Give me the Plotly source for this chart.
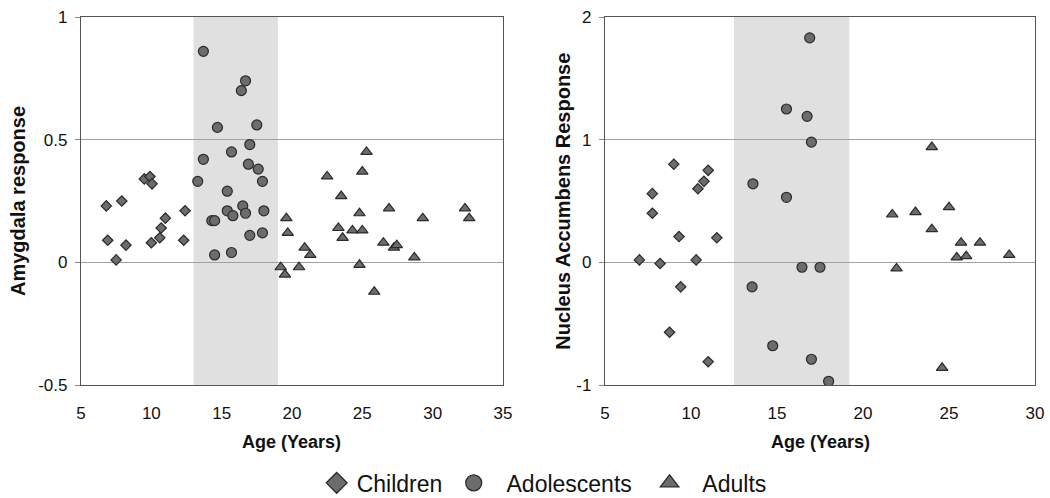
import plotly.graph_objects as go

# ---------------- data ----------------
# Left panel: Amygdala response
amy_child_age = [6.8, 7.9, 6.9, 7.5, 8.2, 9.5, 9.9, 10.05, 10.0, 10.6, 10.7, 11.0, 12.4, 12.3]
amy_child_val = [0.23, 0.25, 0.09, 0.01, 0.07, 0.34, 0.35, 0.32, 0.08, 0.10, 0.14, 0.18, 0.21, 0.09]

amy_adol_age = [13.7, 16.7, 16.4, 14.7, 17.5, 17.0, 13.7, 15.7, 16.9, 17.6, 13.3, 17.9,
                15.4, 16.5, 15.4, 15.8, 16.7, 18.0, 14.3, 14.5, 17.0, 17.9, 14.5, 15.7]
amy_adol_val = [0.86, 0.74, 0.70, 0.55, 0.56, 0.48, 0.42, 0.45, 0.40, 0.38, 0.33, 0.33,
                0.29, 0.23, 0.21, 0.19, 0.20, 0.21, 0.17, 0.17, 0.11, 0.12, 0.03, 0.04]

amy_adult_age = [25.3, 25.0, 22.5, 23.5, 19.6, 19.7, 24.8, 26.9, 29.3, 32.3, 32.6, 23.3, 24.3,
                 25.0, 23.6, 20.9, 21.3, 26.5, 27.25, 27.45, 28.7, 19.2, 19.5, 20.5, 24.8, 25.85]
amy_adult_val = [0.45, 0.37, 0.35, 0.27, 0.18, 0.12, 0.20, 0.22, 0.18, 0.22, 0.18, 0.14, 0.13,
                 0.13, 0.10, 0.06, 0.03, 0.08, 0.06, 0.07, 0.02, -0.02, -0.05, -0.02, -0.01, -0.12]

# Right panel: Nucleus Accumbens response
nac_child_age = [9.0, 11.0, 10.75, 10.4, 7.75, 7.75, 9.3, 11.5, 7.0, 8.2, 10.3, 9.4, 8.75, 11.0]
nac_child_val = [0.80, 0.75, 0.66, 0.60, 0.56, 0.40, 0.21, 0.20, 0.02, -0.01, 0.02, -0.20, -0.57, -0.81]

nac_adol_age = [13.6, 15.55, 15.55, 13.55, 14.75, 16.9, 16.75, 17.0, 16.45, 17.5, 17.0, 18.0]
nac_adol_val = [0.64, 1.25, 0.53, -0.20, -0.68, 1.83, 1.19, 0.98, -0.04, -0.04, -0.79, -0.97]

nac_adult_age = [24.0, 25.0, 21.7, 23.05, 24.0, 25.7, 26.8, 25.45, 26.0, 28.5, 21.95, 24.6]
nac_adult_val = [0.94, 0.45, 0.39, 0.41, 0.27, 0.16, 0.16, 0.04, 0.05, 0.06, -0.05, -0.86]

group_names = ["Children", "Adolescents", "Adults"]
left_ticks = [-0.5, 0, 0.5, 1]
left_ticktext = ["-0.5", "0", "0.5", "1"]
right_ticks = [-1, 0, 1, 2]
right_ticktext = ["-1", "0", "1", "2"]
x_left_ticks = [5, 10, 15, 20, 25, 30, 35]
x_right_ticks = [5, 10, 15, 20, 25, 30]
adolescence_left = [13, 19]
adolescence_right = [12.5, 19.2]

# ---------------- style ----------------
FONT = "Liberation Sans, Arial, Helvetica, sans-serif"
FILL = "#6c6c6c"
EDGE = "#2a2a2a"
NB = "\u00a0"
symbols = {"Children": "diamond", "Adolescents": "circle", "Adults": "triangle-up"}
sizes = {"Children": 8, "Adolescents": 10, "Adults": 10}
legend_labels = {"Children": "Children" + NB,
                 "Adolescents": NB + NB + "Adolescents" + NB + NB,
                 "Adults": NB + NB + "Adults"}

fig = go.Figure()

def add_group(ages, vals, name, xa, ya):
    fig.add_trace(go.Scatter(
        x=ages, y=vals, mode="markers", name=name, showlegend=False,
        xaxis=xa, yaxis=ya,
        marker=dict(symbol=symbols[name], size=sizes[name], color=FILL,
                    line=dict(color=EDGE, width=1.2))))

add_group(amy_child_age, amy_child_val, "Children", "x", "y")
add_group(amy_adol_age, amy_adol_val, "Adolescents", "x", "y")
add_group(amy_adult_age, amy_adult_val, "Adults", "x", "y")
add_group(nac_child_age, nac_child_val, "Children", "x2", "y2")
add_group(nac_adol_age, nac_adol_val, "Adolescents", "x2", "y2")
add_group(nac_adult_age, nac_adult_val, "Adults", "x2", "y2")

# legend-only entries (larger symbols)
for name in group_names:
    fig.add_trace(go.Scatter(
        x=[None], y=[None], mode="markers", name=legend_labels[name], showlegend=True,
        marker=dict(symbol=symbols[name], size=16, color=FILL,
                    line=dict(color=EDGE, width=1.3))))

# shaded adolescence windows
fig.add_shape(type="rect", xref="x", yref="y domain", x0=adolescence_left[0], x1=adolescence_left[1],
              y0=0, y1=1, fillcolor="#e0e0e0", line=dict(width=0), layer="below")
fig.add_shape(type="rect", xref="x2", yref="y2 domain", x0=adolescence_right[0], x1=adolescence_right[1],
              y0=0, y1=1, fillcolor="#e0e0e0", line=dict(width=0), layer="below")

axis_common = dict(showline=True, linecolor="#555555", linewidth=1.3, mirror=True,
                   zeroline=False, tickfont=dict(family=FONT, size=17, color="#111111"))
xaxis_extra = dict(showgrid=False, ticks="", ticklabelstandoff=12)
yaxis_extra = dict(showgrid=True, gridcolor="#a0a0a0", gridwidth=1.2,
                   ticks="outside", ticklen=5, tickcolor="#888888", ticklabelstandoff=4)

fig.update_layout(
    width=1050, height=498,
    margin=dict(l=81, r=15, t=17, b=113, autoexpand=False),
    paper_bgcolor="white", plot_bgcolor="white",
    font=dict(family=FONT, color="#111111"),
    xaxis=dict(domain=[0, 0.4423], range=[5, 35], tickvals=x_left_ticks, anchor="y",
               **xaxis_extra, **axis_common),
    yaxis=dict(domain=[0, 1], range=[-0.5, 1], tickvals=left_ticks, ticktext=left_ticktext,
               anchor="x", **yaxis_extra, **axis_common),
    xaxis2=dict(domain=[0.5493, 1], range=[5, 30], tickvals=x_right_ticks, anchor="y2",
                **xaxis_extra, **axis_common),
    yaxis2=dict(domain=[0, 1], range=[-1, 2], tickvals=right_ticks, ticktext=right_ticktext,
                anchor="x2", **yaxis_extra, **axis_common),
    legend=dict(orientation="h", x=0.4855, y=-0.266, xanchor="center", yanchor="middle",
                font=dict(family=FONT, size=23, color="#111111"), itemsizing="trace",
                bgcolor="rgba(0,0,0,0)"),
    showlegend=True,
)

xtitle_font = dict(family=FONT, size=18, color="#111111")
ytitle_font = dict(family=FONT, size=20, color="#111111")
fig.add_annotation(text="<b>Age (Years)</b>", xref="x domain", yref="paper", x=0.5, y=-0.155,
                   showarrow=False, font=xtitle_font, xanchor="center", yanchor="middle")
fig.add_annotation(text="<b>Age (Years)</b>", xref="x2 domain", yref="paper", x=0.5, y=-0.155,
                   showarrow=False, font=xtitle_font, xanchor="center", yanchor="middle")
fig.add_annotation(text="<b>Amygdala response</b>", xref="paper", yref="paper", x=-0.066, y=0.5,
                   showarrow=False, font=ytitle_font, textangle=-90, xanchor="center", yanchor="middle")
fig.add_annotation(text="<b>Nucleus Accumbens Response</b>", xref="paper", yref="paper", x=0.505, y=0.5,
                   showarrow=False, font=ytitle_font, textangle=-90, xanchor="center", yanchor="middle")

fig.write_html("out.html", config={"displayModeBar": False},
               post_script="document.body.style.margin='0';")
